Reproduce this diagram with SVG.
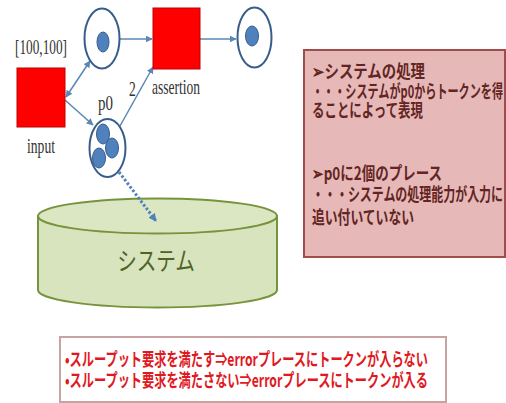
<svg xmlns="http://www.w3.org/2000/svg" width="506" height="403" viewBox="0 0 506 403">
<defs>
<style>
.trans{fill:#ff0000;stroke:#c00000;stroke-width:1}
.place{fill:#ffffff;stroke:#385d8a;stroke-width:2}
.token{fill:#4f81bd;stroke:#385d8a;stroke-width:1}
.arc{fill:none;stroke:#5b86b8;stroke-width:1.5}
.lbl{font-family:"Liberation Serif",serif;font-size:17px;fill:#333333}
.note{font-family:"Noto Sans CJK JP",sans-serif;font-weight:bold;font-size:15px;fill:#632523}
.req{font-family:"Noto Sans CJK JP",sans-serif;font-weight:bold;font-size:15px;fill:#e0191f}
</style>
<marker id="ah" viewBox="0 0 10 10" refX="9" refY="5" markerWidth="7" markerHeight="7" markerUnits="userSpaceOnUse" orient="auto-start-reverse">
<path d="M0,0 L10,5 L0,10 z" fill="#5b86b8"/>
</marker>
<marker id="ahd" viewBox="0 0 10 10" refX="9" refY="5" markerWidth="8" markerHeight="8" markerUnits="userSpaceOnUse" orient="auto">
<path d="M0,0 L10,5 L0,10 z" fill="#4f81bd"/>
</marker>
</defs>
<rect width="506" height="403" fill="#ffffff"/>

<g id="system">
<path d="M38,216 L38,290 A119.5,17.5 0 0 0 277,290 L277,216 Z" fill="#d7e4bd" stroke="#77933c" stroke-width="2"/>
<ellipse cx="157.5" cy="216" rx="119.5" ry="17.5" fill="#dbe7c3" stroke="#77933c" stroke-width="2"/>
<text transform="translate(156 270) scale(0.81 1.05)" x="0" y="0" text-anchor="middle" font-family="'Noto Sans CJK JP',sans-serif" font-size="24" fill="#4f6228" textLength="96" lengthAdjust="spacingAndGlyphs">システム</text>
</g>

<g id="connectors">
<line class="arc" x1="120" y1="39" x2="152" y2="39" marker-end="url(#ah)"/>
<line class="arc" x1="200" y1="39" x2="236" y2="39" marker-end="url(#ah)"/>
<line class="arc" x1="66" y1="97" x2="90" y2="61" marker-start="url(#ah)" marker-end="url(#ah)"/>
<line class="arc" x1="65" y1="100" x2="93" y2="125" marker-end="url(#ah)"/>
<line class="arc" x1="120" y1="126" x2="153" y2="67" marker-end="url(#ah)"/>
<line x1="119" y1="172" x2="156" y2="221" stroke="#4f81bd" stroke-width="3" stroke-dasharray="2.5,2" marker-end="url(#ahd)"/>
<text class="lbl" transform="translate(129 96) scale(0.8 1.2)" x="0" y="0">2</text>
</g>

<g id="input">
<rect class="trans" x="17" y="68" width="48" height="59"/>
<text class="lbl" transform="translate(15 54) scale(0.78 1.25)" x="0" y="0" textLength="66.7" lengthAdjust="spacingAndGlyphs">[100,100]</text>
<text class="lbl" transform="translate(27 153) scale(0.8 1.2)" x="0" y="0" textLength="35" lengthAdjust="spacingAndGlyphs">input</text>
</g>

<g id="place-top">
<ellipse class="place" cx="102" cy="38.5" rx="17.5" ry="30"/>
<ellipse class="token" cx="103" cy="42" rx="6" ry="10"/>
</g>

<g id="assertion">
<rect class="trans" x="153" y="8" width="47" height="61"/>
<text class="lbl" transform="translate(152 94) scale(0.8 1.2)" x="0" y="0" textLength="60" lengthAdjust="spacingAndGlyphs">assertion</text>
</g>

<g id="place-out">
<ellipse class="place" cx="254.5" cy="37.5" rx="17" ry="30"/>
<ellipse class="token" cx="252" cy="36" rx="6.5" ry="10"/>
</g>

<g id="p0">
<ellipse class="place" cx="107.5" cy="148" rx="18" ry="29"/>
<ellipse class="token" cx="103" cy="134" rx="6.5" ry="10"/>
<ellipse class="token" cx="112" cy="148" rx="6.5" ry="10"/>
<ellipse class="token" cx="99" cy="158" rx="6.5" ry="10"/>
<text class="lbl" transform="translate(98 110) scale(0.8 1.2)" x="0" y="0" textLength="18.7" lengthAdjust="spacingAndGlyphs">p0</text>
</g>

<g id="note">
<rect x="304" y="50" width="201" height="207" fill="#e6b9b8" stroke="#a04c4a" stroke-width="2"/>
<text class="note" transform="translate(312 78) scale(0.75 1.2)" x="0" y="0" textLength="150.7" lengthAdjust="spacingAndGlyphs">➢システムの処理</text>
<text class="note" transform="translate(312 98) scale(0.75 1.2)" x="0" y="0" textLength="254.7" lengthAdjust="spacingAndGlyphs">・・・システムがp0からトークンを得</text>
<text class="note" transform="translate(312 117) scale(0.75 1.2)" x="0" y="0" textLength="148" lengthAdjust="spacingAndGlyphs">ることによって表現</text>
<text class="note" transform="translate(312 180) scale(0.75 1.2)" x="0" y="0" textLength="173.3" lengthAdjust="spacingAndGlyphs">➢p0に2個のプレース</text>
<text class="note" transform="translate(312 201) scale(0.75 1.2)" x="0" y="0" textLength="254.7" lengthAdjust="spacingAndGlyphs">・・・システムの処理能力が入力に</text>
<text class="note" transform="translate(312 224) scale(0.75 1.2)" x="0" y="0" textLength="136" lengthAdjust="spacingAndGlyphs">追い付いていない</text>
</g>

<g id="requirement">
<rect x="60" y="337" width="386" height="65" fill="#ffffff" stroke="#c9a3a3" stroke-width="2"/>
<text class="req" transform="translate(65 366) scale(0.8 1.2)" x="0" y="0" textLength="453.7" lengthAdjust="spacingAndGlyphs">•スループット要求を満たす⇒errorプレースにトークンが入らない</text>
<text class="req" transform="translate(65 387) scale(0.8 1.2)" x="0" y="0" textLength="453.7" lengthAdjust="spacingAndGlyphs">•スループット要求を満たさない⇒errorプレースにトークンが入る</text>
</g>
</svg>
